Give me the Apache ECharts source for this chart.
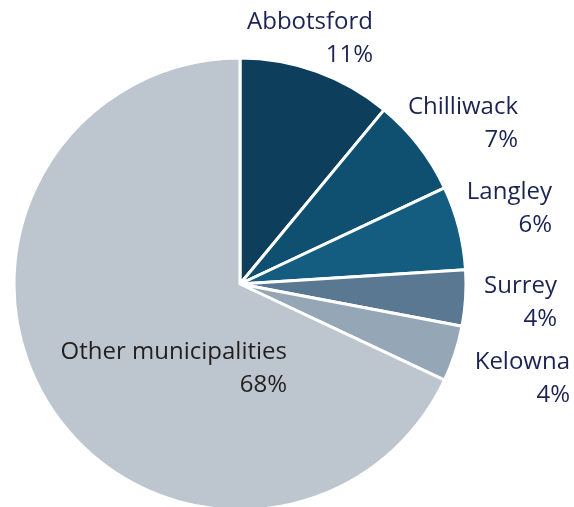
<!DOCTYPE html>
<html><head><meta charset="utf-8">
<script src="https://cdn.jsdelivr.net/npm/echarts@6/dist/echarts.min.js"></script>
<style>html,body{margin:0;padding:0;background:#fff}#c{width:574px;height:507px}</style>
</head><body><div id="c"></div>
<script>
const categories = ["Abbotsford", "Chilliwack", "Langley", "Surrey", "Kelowna", "Other municipalities"];
const values = [11, 7, 6, 4, 4, 68];
const colors = ["#0d3e5b", "#0f5071", "#145d80", "#5a7891", "#95a7b6", "#bdc6cf"];
// label anchor (right edge, first-line middle)
const labelPos = [[373, 22], [518, 107], [552, 192], [557, 286], [570, 362], [287, 352]];

const chart = echarts.init(document.getElementById('c'), null, {renderer: 'canvas'});
chart.setOption({
  animation: false,
  series: [{
    type: 'pie',
    center: [240, 284],
    radius: [0, 226],
    startAngle: 90,
    clockwise: true,
    data: categories.map((n, i) => ({
      name: n, value: values[i],
      itemStyle: {color: colors[i]},
      label: {color: i === 5 ? '#231f20' : '#1b2452'}
    })),
    itemStyle: {borderColor: '#fff', borderWidth: 3},
    label: {
      show: true,
      position: 'inside',
      formatter: p => p.name + '\n' + p.value + '%',
      fontFamily: 'Open Sans',
      fontSize: 24,
      lineHeight: 33,
      align: 'right'
    },
    labelLine: {show: false},
    labelLayout: p => ({
      x: labelPos[p.dataIndex][0],
      y: labelPos[p.dataIndex][1] - 16,
      align: 'right',
      verticalAlign: 'top'
    }),
    emphasis: {disabled: true}
  }]
});
</script></body></html>
